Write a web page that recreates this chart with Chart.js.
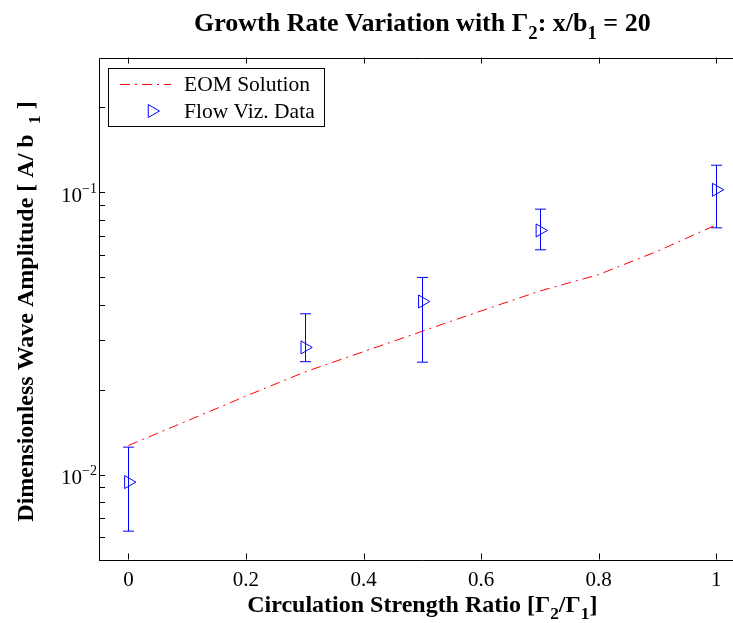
<!DOCTYPE html>
<html><head><meta charset="utf-8">
<script src="https://cdn.jsdelivr.net/npm/chart.js@4.4.0/dist/chart.umd.min.js"></script>
<style>
html,body{margin:0;padding:0;background:#fff;overflow:hidden;width:733px;height:623px}
#wrap{position:absolute;left:0;top:0;width:733px;height:623px;overflow:hidden}
#c{position:absolute;left:0;top:0}
</style>
</head><body><div id="wrap"><canvas id="c" width="760" height="623"></canvas></div>
<script>
// ---- data ----
const eomX = [0, 0.1, 0.2, 0.3, 0.4, 0.5, 0.6, 0.7, 0.8, 0.9, 1.0];
const eomY = [0.01267, 0.01549, 0.01896, 0.02307, 0.02724, 0.03218, 0.03798, 0.04467, 0.05107, 0.06180, 0.07659];
const vizX = [0, 0.3, 0.5, 0.7, 1.0];
const vizY = [0.0094, 0.0282, 0.0410, 0.0732, 0.102];
const vizHi = [0.0125, 0.0371, 0.0499, 0.0871, 0.1246];
const vizLo = [0.0063, 0.0251, 0.0250, 0.0625, 0.0748];
const xTicks = [0, 0.2, 0.4, 0.6, 0.8, 1];
const xTickLabels = ['0', '0.2', '0.4', '0.6', '0.8', '1'];
const yMajor = [0.01, 0.1];
const yMajorLabels = [['10', '\u22122'], ['10', '\u22121']];
const titleParts = [['Growth Rate Variation with ', 0], ['\u0393', 0], ['2', 1], [': x/b', 0], ['1', 1], [' = 20', 0]];
const xLabelParts = [['Circulation Strength Ratio [\u0393', 0], ['2', 1], ['/\u0393', 0], ['1', 1], [']', 0]];
const yLabelParts = [['Dimensionless Wave Amplitude [ A/ b ', 0], [' 1', 1], [' ]', 0]];
const legendLabels = ['EOM Solution', 'Flow Viz. Data'];

const SERIF = '"Liberation Serif", "Times New Roman", serif';
const RED = '#ff0000', BLUE = '#0000ff';
const DASHDOT = [10, 5, 2, 5];

function richWidth(ctx, parts, size, bold) {
  let w = 0;
  for (const [t, s] of parts) {
    ctx.font = (bold ? 'bold ' : '') + (s ? size * 0.72 : size) + 'px ' + SERIF;
    w += ctx.measureText(t).width;
  }
  return w;
}
function drawRich(ctx, parts, cx, cy, size, bold) {
  const w = richWidth(ctx, parts, size, bold);
  let x = cx - w / 2;
  ctx.textBaseline = 'alphabetic';
  ctx.textAlign = 'left';
  for (const [t, s] of parts) {
    ctx.font = (bold ? 'bold ' : '') + (s ? size * 0.72 : size) + 'px ' + SERIF;
    ctx.fillText(t, x, cy + (s ? size * 0.3 : 0));
    x += ctx.measureText(t).width;
  }
}

const decor = {
  id: 'decor',
  beforeDatasetsDraw(chart) {
    const ctx = chart.ctx, xs = chart.scales.x, ys = chart.scales.y;
    ctx.save();
    ctx.strokeStyle = BLUE; ctx.lineWidth = 1;
    for (let i = 0; i < vizX.length; i++) {
      const px = Math.round(xs.getPixelForValue(vizX[i])) + 0.5;
      const ph = ys.getPixelForValue(vizHi[i]);
      const pl = ys.getPixelForValue(vizLo[i]);
      ctx.beginPath();
      ctx.moveTo(px, ph); ctx.lineTo(px, pl);
      ctx.moveTo(px - 5.5, ph); ctx.lineTo(px + 5.5, ph);
      ctx.moveTo(px - 5.5, pl); ctx.lineTo(px + 5.5, pl);
      ctx.stroke();
    }
    ctx.restore();
  },
  afterDraw(chart) {
    const ctx = chart.ctx, xs = chart.scales.x, ys = chart.scales.y, a = chart.chartArea;
    ctx.save();
    ctx.fillStyle = '#000';
    ctx.strokeStyle = '#000';
    ctx.lineWidth = 1;
    // frame: left, top, bottom (right edge lies outside the visible page)
    const L = Math.round(a.left) + 0.5, T = Math.round(a.top) + 0.5, B = Math.round(a.bottom) + 0.5, R = a.right;
    ctx.beginPath();
    ctx.moveTo(R, T); ctx.lineTo(L, T); ctx.lineTo(L, B); ctx.lineTo(R, B);
    ctx.stroke();
    // ticks (inward)
    const TL = 6;
    ctx.beginPath();
    for (const v of xTicks) {
      const px = Math.round(xs.getPixelForValue(v)) + 0.5;
      ctx.moveTo(px, a.bottom); ctx.lineTo(px, a.bottom - TL);
      ctx.moveTo(px, a.top); ctx.lineTo(px, a.top + TL);
    }
    for (let d = -3; d <= -1; d++) {
      for (let m = 1; m <= 9; m++) {
        const v = m * Math.pow(10, d);
        if (v < ys.min || v > ys.max) continue;
        const py = Math.round(ys.getPixelForValue(v)) + 0.5;
        ctx.moveTo(a.left, py); ctx.lineTo(a.left + TL, py);
      }
    }
    ctx.stroke();
    // x tick labels
    ctx.font = '21px ' + SERIF;
    ctx.textAlign = 'center'; ctx.textBaseline = 'alphabetic';
    xTicks.forEach((v, i) => ctx.fillText(xTickLabels[i], xs.getPixelForValue(v), a.bottom + 26));
    // y tick labels
    yMajor.forEach((v, i) => {
      const py = ys.getPixelForValue(v);
      const [base, exp] = yMajorLabels[i];
      ctx.font = '14px ' + SERIF;
      const ew = ctx.measureText(exp).width;
      ctx.textAlign = 'right';
      const xr = a.left - 2;
      ctx.fillText(exp, xr, py + 0.5);
      ctx.font = '21px ' + SERIF;
      ctx.fillText(base, xr - ew, py + 9.5);
    });
    // titles
    drawRich(ctx, titleParts, (a.left + a.right) / 2, 31, 26, true);
    drawRich(ctx, xLabelParts, (a.left + a.right) / 2, 612, 24, true);
    ctx.save();
    ctx.translate(33, (a.top + a.bottom) / 2 + 3);
    ctx.rotate(-Math.PI / 2);
    drawRich(ctx, yLabelParts, 0, 0, 24, true);
    ctx.restore();
    // legend
    const lx = 108.5, ly = 68.5, lw = 216, lh = 58;
    ctx.fillStyle = '#fff';
    ctx.fillRect(lx, ly, lw, lh);
    ctx.strokeStyle = '#000';
    ctx.strokeRect(lx, ly, lw, lh);
    ctx.strokeStyle = RED; ctx.setLineDash(DASHDOT);
    ctx.beginPath(); ctx.moveTo(120, 84.5); ctx.lineTo(171, 84.5); ctx.stroke();
    ctx.setLineDash([]);
    ctx.strokeStyle = BLUE;
    const tx = 152, ty = 111, r = 7.5;
    ctx.beginPath();
    ctx.moveTo(tx + r, ty);
    ctx.lineTo(tx - r / 2, ty - r * 0.866);
    ctx.lineTo(tx - r / 2, ty + r * 0.866);
    ctx.closePath(); ctx.stroke();
    ctx.fillStyle = '#000';
    ctx.font = '21.5px ' + SERIF;
    ctx.textAlign = 'left'; ctx.textBaseline = 'middle';
    ctx.fillText(legendLabels[0], 184, 85);
    ctx.fillText(legendLabels[1], 184, 112);
    ctx.restore();
  }
};

new Chart(document.getElementById('c'), {
  type: 'line',
  data: {
    datasets: [
      {
        label: legendLabels[0],
        data: eomX.map((x, i) => ({ x, y: eomY[i] })),
        borderColor: RED, borderWidth: 1, borderDash: DASHDOT,
        pointRadius: 0, tension: 0, fill: false
      },
      {
        label: legendLabels[1],
        data: vizX.map((x, i) => ({ x, y: vizY[i] })),
        showLine: false,
        pointStyle: 'triangle', rotation: 90, pointRadius: 7.5,
        pointBorderColor: BLUE, pointBackgroundColor: 'rgba(0,0,0,0)', pointBorderWidth: 1,
        borderColor: BLUE
      }
    ]
  },
  options: {
    responsive: false, animation: false, devicePixelRatio: 1,
    layout: { padding: { top: 57.5, right: 14.4, left: 0, bottom: 0 } },
    plugins: { legend: { display: false }, title: { display: false }, tooltip: { enabled: false } },
    scales: {
      x: {
        type: 'linear', min: -0.05, max: 1.05,
        grid: { display: false }, border: { display: false },
        ticks: { display: false },
        afterFit(s) { s.height = 63.5; }
      },
      y: {
        type: 'logarithmic', min: 0.005, max: 0.3,
        grid: { display: false }, border: { display: false },
        ticks: { display: false },
        afterFit(s) { s.width = 99; }
      }
    }
  },
  plugins: [decor]
});
</script>
</body></html>
